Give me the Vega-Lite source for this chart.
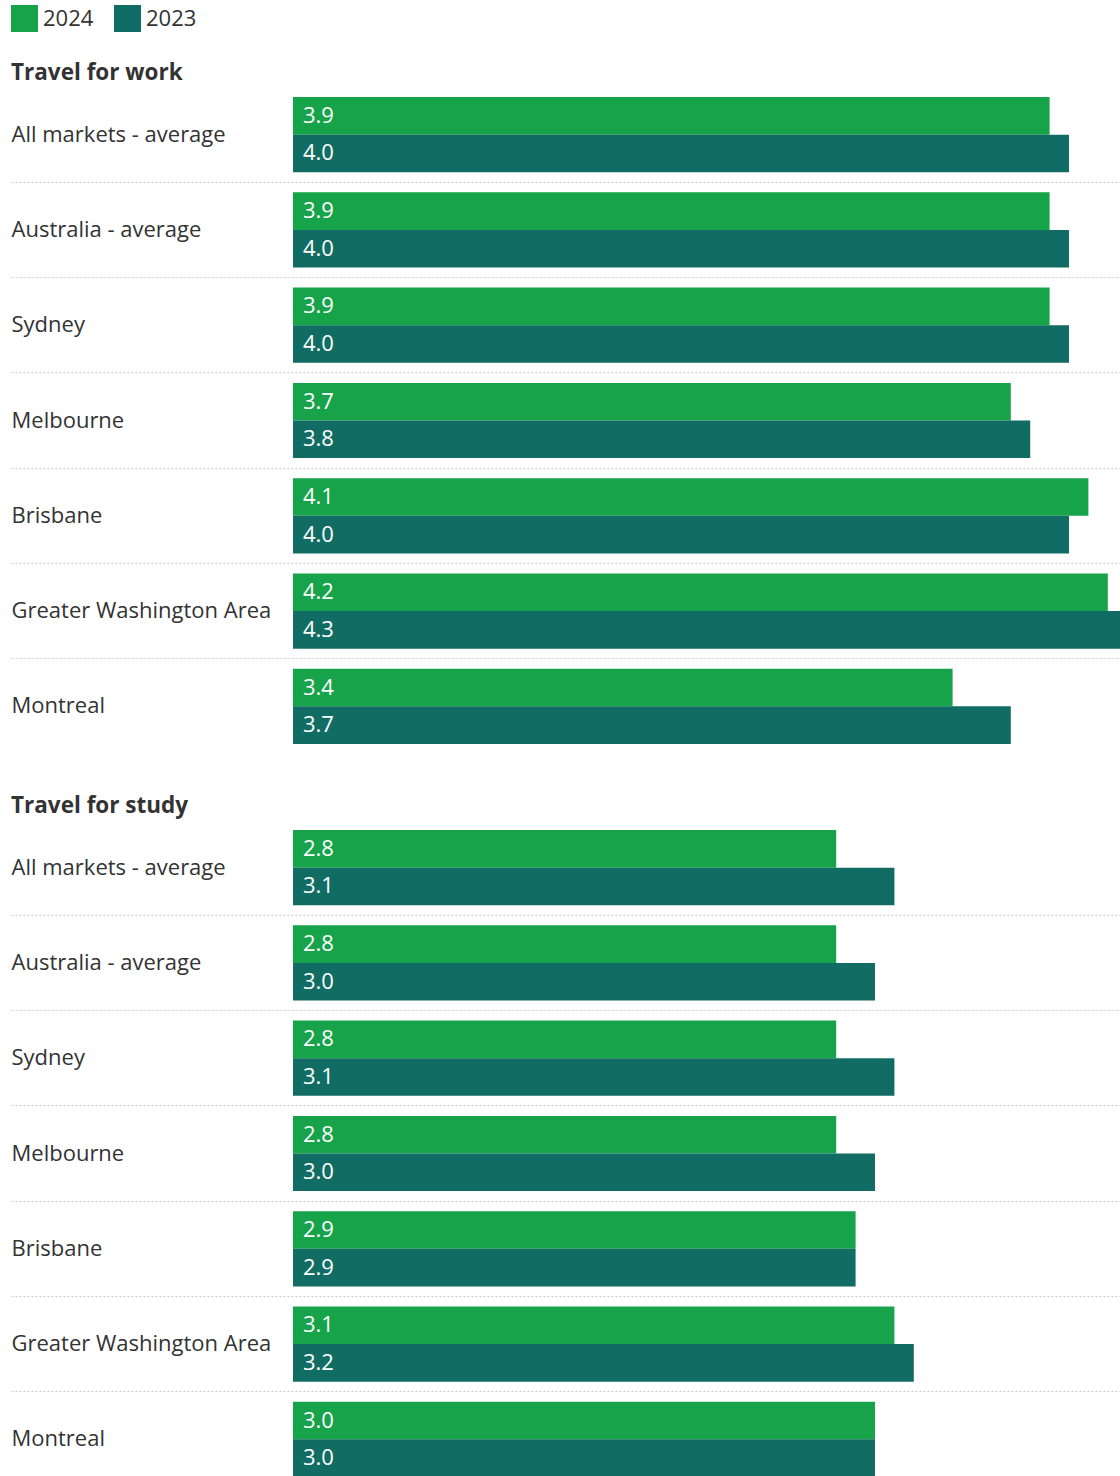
{
  "$schema": "https://vega.github.io/schema/vega-lite/v6.json",
  "padding": {"left": 11, "top": 5, "right": 0, "bottom": 0},
  "background": "white",
  "config": {
    "view": {"stroke": null},
    "font": "Open Sans",
    "concat": {"spacing": 40},
    "title": {"anchor": "start", "fontSize": 22.5, "fontWeight": "bold", "color": "#333333", "font": "Open Sans", "offset": 3},
    "legend": {"orient": "top", "title": null, "symbolType": "square", "symbolSize": 729, "labelFontSize": 22, "labelFont": "Open Sans", "labelColor": "#333333", "columnPadding": 20, "labelOffset": 5, "symbolStrokeWidth": 0, "offset": 29, "padding": 0}
  },
  "data": {"values": [
    {"section": "work", "market": "All markets - average", "year": "2024", "value": 3.9},
    {"section": "work", "market": "All markets - average", "year": "2023", "value": 4.0},
    {"section": "work", "market": "Australia - average", "year": "2024", "value": 3.9},
    {"section": "work", "market": "Australia - average", "year": "2023", "value": 4.0},
    {"section": "work", "market": "Sydney", "year": "2024", "value": 3.9},
    {"section": "work", "market": "Sydney", "year": "2023", "value": 4.0},
    {"section": "work", "market": "Melbourne", "year": "2024", "value": 3.7},
    {"section": "work", "market": "Melbourne", "year": "2023", "value": 3.8},
    {"section": "work", "market": "Brisbane", "year": "2024", "value": 4.1},
    {"section": "work", "market": "Brisbane", "year": "2023", "value": 4.0},
    {"section": "work", "market": "Greater Washington Area", "year": "2024", "value": 4.2},
    {"section": "work", "market": "Greater Washington Area", "year": "2023", "value": 4.3},
    {"section": "work", "market": "Montreal", "year": "2024", "value": 3.4},
    {"section": "work", "market": "Montreal", "year": "2023", "value": 3.7},
    {"section": "study", "market": "All markets - average", "year": "2024", "value": 2.8},
    {"section": "study", "market": "All markets - average", "year": "2023", "value": 3.1},
    {"section": "study", "market": "Australia - average", "year": "2024", "value": 2.8},
    {"section": "study", "market": "Australia - average", "year": "2023", "value": 3.0},
    {"section": "study", "market": "Sydney", "year": "2024", "value": 2.8},
    {"section": "study", "market": "Sydney", "year": "2023", "value": 3.1},
    {"section": "study", "market": "Melbourne", "year": "2024", "value": 2.8},
    {"section": "study", "market": "Melbourne", "year": "2023", "value": 3.0},
    {"section": "study", "market": "Brisbane", "year": "2024", "value": 2.9},
    {"section": "study", "market": "Brisbane", "year": "2023", "value": 2.9},
    {"section": "study", "market": "Greater Washington Area", "year": "2024", "value": 3.1},
    {"section": "study", "market": "Greater Washington Area", "year": "2023", "value": 3.2},
    {"section": "study", "market": "Montreal", "year": "2024", "value": 3.0},
    {"section": "study", "market": "Montreal", "year": "2023", "value": 3.0}
  ]},
  "resolve": {"scale": {"color": "shared"}},
  "vconcat": [
    {
      "title": {"text": "Travel for work"},
      "transform": [{"filter": "datum.section === 'work'"}],
      "width": 1109,
      "height": 667,
      "encoding": {
        "y": {"field": "market", "type": "nominal",
          "sort": ["All markets - average", "Australia - average", "Sydney", "Melbourne", "Brisbane", "Greater Washington Area", "Montreal"],
          "scale": {"paddingInner": 0, "paddingOuter": 0},
          "axis": {"title": null, "domain": false, "ticks": false, "tickSize": 0, "labelAlign": "left", "labelPadding": 0, "labelFontSize": 22, "labelFont": "Open Sans", "labelColor": "#333333", "labelLimit": 400, "bandPosition": 1, "grid": true, "gridDash": [2, 2], "gridWidth": 1, "gridColor": {"condition": {"test": "datum.value === 'Montreal'", "value": "transparent"}, "value": "#cccccc"}}},
        "yOffset": {"field": "year", "type": "nominal", "sort": ["2024", "2023"], "scale": {"paddingInner": 0, "paddingOuter": 0.2667}}
      },
      "layer": [
        {"mark": {"type": "bar", "clip": true},
         "encoding": {
           "x": {"field": "value", "type": "quantitative", "scale": {"domain": [-1.45361, 4.26289], "nice": false, "zero": false}, "axis": null},
           "x2": {"datum": 0},
           "color": {"field": "year", "type": "nominal", "scale": {"domain": ["2024", "2023"], "range": ["#16a34a", "#116d63"]}}
         }},
        {"mark": {"type": "text", "align": "left", "baseline": "middle", "dx": 10, "color": "white", "fontSize": 22, "font": "Open Sans"},
         "encoding": {
           "x": {"datum": 0, "type": "quantitative"},
           "text": {"field": "value", "type": "quantitative", "format": ".1f"}
         }}
      ]
    },
    {
      "title": {"text": "Travel for study"},
      "transform": [{"filter": "datum.section === 'study'"}],
      "width": 1109,
      "height": 667,
      "encoding": {
        "y": {"field": "market", "type": "nominal",
          "sort": ["All markets - average", "Australia - average", "Sydney", "Melbourne", "Brisbane", "Greater Washington Area", "Montreal"],
          "scale": {"paddingInner": 0, "paddingOuter": 0},
          "axis": {"title": null, "domain": false, "ticks": false, "tickSize": 0, "labelAlign": "left", "labelPadding": 0, "labelFontSize": 22, "labelFont": "Open Sans", "labelColor": "#333333", "labelLimit": 400, "bandPosition": 1, "grid": true, "gridDash": [2, 2], "gridWidth": 1, "gridColor": {"condition": {"test": "datum.value === 'Montreal'", "value": "transparent"}, "value": "#cccccc"}}},
        "yOffset": {"field": "year", "type": "nominal", "sort": ["2024", "2023"], "scale": {"paddingInner": 0, "paddingOuter": 0.2667}}
      },
      "layer": [
        {"mark": {"type": "bar", "clip": true},
         "encoding": {
           "x": {"field": "value", "type": "quantitative", "scale": {"domain": [-1.45361, 4.26289], "nice": false, "zero": false}, "axis": null},
           "x2": {"datum": 0},
           "color": {"field": "year", "type": "nominal", "scale": {"domain": ["2024", "2023"], "range": ["#16a34a", "#116d63"]}}
         }},
        {"mark": {"type": "text", "align": "left", "baseline": "middle", "dx": 10, "color": "white", "fontSize": 22, "font": "Open Sans"},
         "encoding": {
           "x": {"datum": 0, "type": "quantitative"},
           "text": {"field": "value", "type": "quantitative", "format": ".1f"}
         }}
      ]
    }
  ]
}
